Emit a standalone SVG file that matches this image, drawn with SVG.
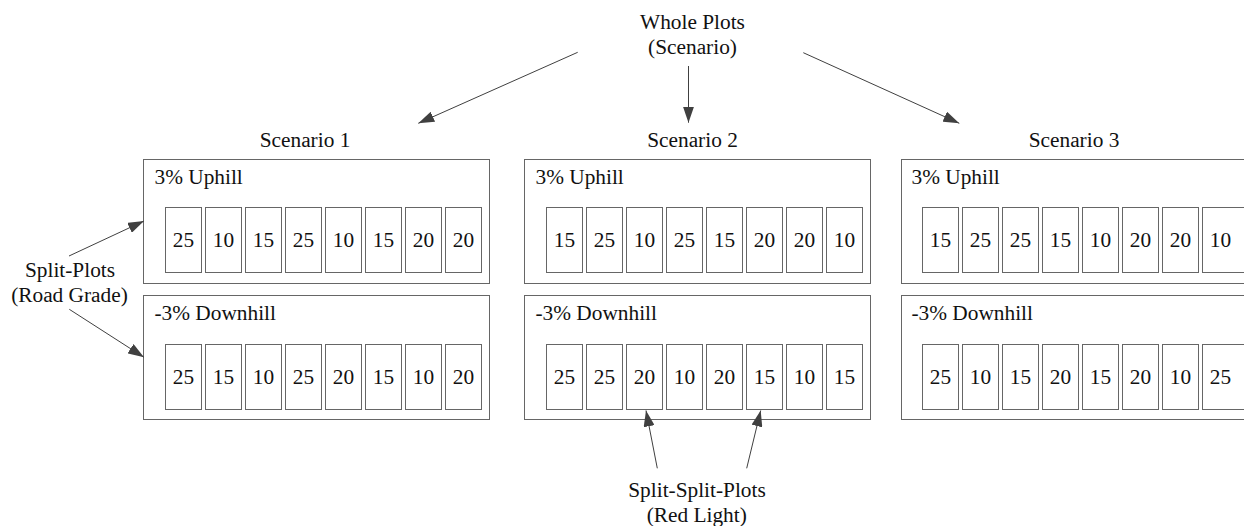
<svg xmlns="http://www.w3.org/2000/svg" width="1244" height="526" viewBox="0 0 1244 526" font-family="'Liberation Serif', 'DejaVu Serif', 'Noto Serif', serif">
<style>
text{font-family:'Liberation Serif','DejaVu Serif','Noto Serif',serif;font-size:21.33px;fill:#111}
.c{text-anchor:middle}
.f{fill:#fff;stroke:#666;stroke-width:1}
.b{fill:#fff;stroke:#666;stroke-width:1}
.a{stroke:#404040;stroke-width:1;fill:none;marker-end:url(#ah)}
</style>
<defs>
<marker id="ah" viewBox="0 0 16 11" refX="16" refY="5.5" markerWidth="16" markerHeight="11" markerUnits="userSpaceOnUse" orient="auto">
<path d="M0,0 L16,5.5 L0,11 z" fill="#404040"/>
</marker>
</defs>
<rect width="1244" height="526" fill="#fff"/>

<g id="whole-plots-label">
<text class="c" x="692.5" y="28.5">Whole Plots</text>
<text class="c" x="692.5" y="54">(Scenario)</text>
</g>
<g id="split-plots-label">
<text class="c" x="70" y="277">Split-Plots</text>
<text class="c" x="69.5" y="302">(Road Grade)</text>
</g>
<g id="split-split-plots-label">
<text class="c" x="697" y="497">Split-Split-Plots</text>
<text class="c" x="696.7" y="522">(Red Light)</text>
</g>

<g id="scenario1">
<text class="c" x="305" y="147">Scenario 1</text>
<g id="s1-uphill">
<rect class="f" x="143.5" y="159.5" width="346" height="124"/>
<text x="154.5" y="183.5">3% Uphill</text>
<rect class="b" x="165.5" y="207.5" width="36" height="65"/><text class="c" x="183.5" y="246.5">25</text>
<rect class="b" x="205.5" y="207.5" width="36" height="65"/><text class="c" x="223.5" y="246.5">10</text>
<rect class="b" x="245.5" y="207.5" width="36" height="65"/><text class="c" x="263.5" y="246.5">15</text>
<rect class="b" x="285.5" y="207.5" width="36" height="65"/><text class="c" x="303.5" y="246.5">25</text>
<rect class="b" x="325.5" y="207.5" width="36" height="65"/><text class="c" x="343.5" y="246.5">10</text>
<rect class="b" x="365.5" y="207.5" width="36" height="65"/><text class="c" x="383.5" y="246.5">15</text>
<rect class="b" x="405.5" y="207.5" width="36" height="65"/><text class="c" x="423.5" y="246.5">20</text>
<rect class="b" x="445.5" y="207.5" width="36" height="65"/><text class="c" x="463.5" y="246.5">20</text>
</g>
<g id="s1-downhill">
<rect class="f" x="143.5" y="295.5" width="346" height="124"/>
<text x="154.5" y="320">-3% Downhill</text>
<rect class="b" x="165.5" y="344.5" width="36" height="65"/><text class="c" x="183.5" y="384">25</text>
<rect class="b" x="205.5" y="344.5" width="36" height="65"/><text class="c" x="223.5" y="384">15</text>
<rect class="b" x="245.5" y="344.5" width="36" height="65"/><text class="c" x="263.5" y="384">10</text>
<rect class="b" x="285.5" y="344.5" width="36" height="65"/><text class="c" x="303.5" y="384">25</text>
<rect class="b" x="325.5" y="344.5" width="36" height="65"/><text class="c" x="343.5" y="384">20</text>
<rect class="b" x="365.5" y="344.5" width="36" height="65"/><text class="c" x="383.5" y="384">15</text>
<rect class="b" x="405.5" y="344.5" width="36" height="65"/><text class="c" x="423.5" y="384">10</text>
<rect class="b" x="445.5" y="344.5" width="36" height="65"/><text class="c" x="463.5" y="384">20</text>
</g>
</g>

<g id="scenario2">
<text class="c" x="692.5" y="147">Scenario 2</text>
<g id="s2-uphill">
<rect class="f" x="524.5" y="159.5" width="346" height="124"/>
<text x="535.5" y="183.5">3% Uphill</text>
<rect class="b" x="546.5" y="207.5" width="36" height="65"/><text class="c" x="564.5" y="246.5">15</text>
<rect class="b" x="586.5" y="207.5" width="36" height="65"/><text class="c" x="604.5" y="246.5">25</text>
<rect class="b" x="626.5" y="207.5" width="36" height="65"/><text class="c" x="644.5" y="246.5">10</text>
<rect class="b" x="666.5" y="207.5" width="36" height="65"/><text class="c" x="684.5" y="246.5">25</text>
<rect class="b" x="706.5" y="207.5" width="36" height="65"/><text class="c" x="724.5" y="246.5">15</text>
<rect class="b" x="746.5" y="207.5" width="36" height="65"/><text class="c" x="764.5" y="246.5">20</text>
<rect class="b" x="786.5" y="207.5" width="36" height="65"/><text class="c" x="804.5" y="246.5">20</text>
<rect class="b" x="826.5" y="207.5" width="36" height="65"/><text class="c" x="844.5" y="246.5">10</text>
</g>
<g id="s2-downhill">
<rect class="f" x="524.5" y="295.5" width="346" height="124"/>
<text x="535.5" y="320">-3% Downhill</text>
<rect class="b" x="546.5" y="344.5" width="36" height="65"/><text class="c" x="564.5" y="384">25</text>
<rect class="b" x="586.5" y="344.5" width="36" height="65"/><text class="c" x="604.5" y="384">25</text>
<rect class="b" x="626.5" y="344.5" width="36" height="65"/><text class="c" x="644.5" y="384">20</text>
<rect class="b" x="666.5" y="344.5" width="36" height="65"/><text class="c" x="684.5" y="384">10</text>
<rect class="b" x="706.5" y="344.5" width="36" height="65"/><text class="c" x="724.5" y="384">20</text>
<rect class="b" x="746.5" y="344.5" width="36" height="65"/><text class="c" x="764.5" y="384">15</text>
<rect class="b" x="786.5" y="344.5" width="36" height="65"/><text class="c" x="804.5" y="384">10</text>
<rect class="b" x="826.5" y="344.5" width="36" height="65"/><text class="c" x="844.5" y="384">15</text>
</g>
</g>

<g id="scenario3">
<text class="c" x="1074" y="147">Scenario 3</text>
<g id="s3-uphill">
<rect class="f" x="901.5" y="159.5" width="346" height="124"/>
<text x="911.5" y="183.5">3% Uphill</text>
<rect class="b" x="922.5" y="207.5" width="36" height="65"/><text class="c" x="940.5" y="246.5">15</text>
<rect class="b" x="962.5" y="207.5" width="36" height="65"/><text class="c" x="980.5" y="246.5">25</text>
<rect class="b" x="1002.5" y="207.5" width="36" height="65"/><text class="c" x="1020.5" y="246.5">25</text>
<rect class="b" x="1042.5" y="207.5" width="36" height="65"/><text class="c" x="1060.5" y="246.5">15</text>
<rect class="b" x="1082.5" y="207.5" width="36" height="65"/><text class="c" x="1100.5" y="246.5">10</text>
<rect class="b" x="1122.5" y="207.5" width="36" height="65"/><text class="c" x="1140.5" y="246.5">20</text>
<rect class="b" x="1162.5" y="207.5" width="36" height="65"/><text class="c" x="1180.5" y="246.5">20</text>
<rect class="b" x="1202.5" y="207.5" width="46" height="65"/><text class="c" x="1220.5" y="246.5">10</text>
</g>
<g id="s3-downhill">
<rect class="f" x="901.5" y="295.5" width="346" height="124"/>
<text x="911.5" y="320">-3% Downhill</text>
<rect class="b" x="922.5" y="344.5" width="36" height="65"/><text class="c" x="940.5" y="384">25</text>
<rect class="b" x="962.5" y="344.5" width="36" height="65"/><text class="c" x="980.5" y="384">10</text>
<rect class="b" x="1002.5" y="344.5" width="36" height="65"/><text class="c" x="1020.5" y="384">15</text>
<rect class="b" x="1042.5" y="344.5" width="36" height="65"/><text class="c" x="1060.5" y="384">20</text>
<rect class="b" x="1082.5" y="344.5" width="36" height="65"/><text class="c" x="1100.5" y="384">15</text>
<rect class="b" x="1122.5" y="344.5" width="36" height="65"/><text class="c" x="1140.5" y="384">20</text>
<rect class="b" x="1162.5" y="344.5" width="36" height="65"/><text class="c" x="1180.5" y="384">10</text>
<rect class="b" x="1202.5" y="344.5" width="46" height="65"/><text class="c" x="1220.5" y="384">25</text>
</g>
</g>

<g id="connectors">
<line class="a" x1="577.7" y1="52.3" x2="418.3" y2="123.3"/>
<line class="a" x1="688.5" y1="66" x2="688.5" y2="122.7"/>
<line class="a" x1="803.3" y1="52.7" x2="959.3" y2="123.3"/>
<line class="a" x1="69" y1="256" x2="144" y2="221"/>
<line class="a" x1="69.3" y1="309.3" x2="144" y2="357.3"/>
<line class="a" x1="657.3" y1="468.3" x2="646" y2="410.5"/>
<line class="a" x1="746.7" y1="468.3" x2="760.7" y2="410.5"/>
</g>
</svg>
